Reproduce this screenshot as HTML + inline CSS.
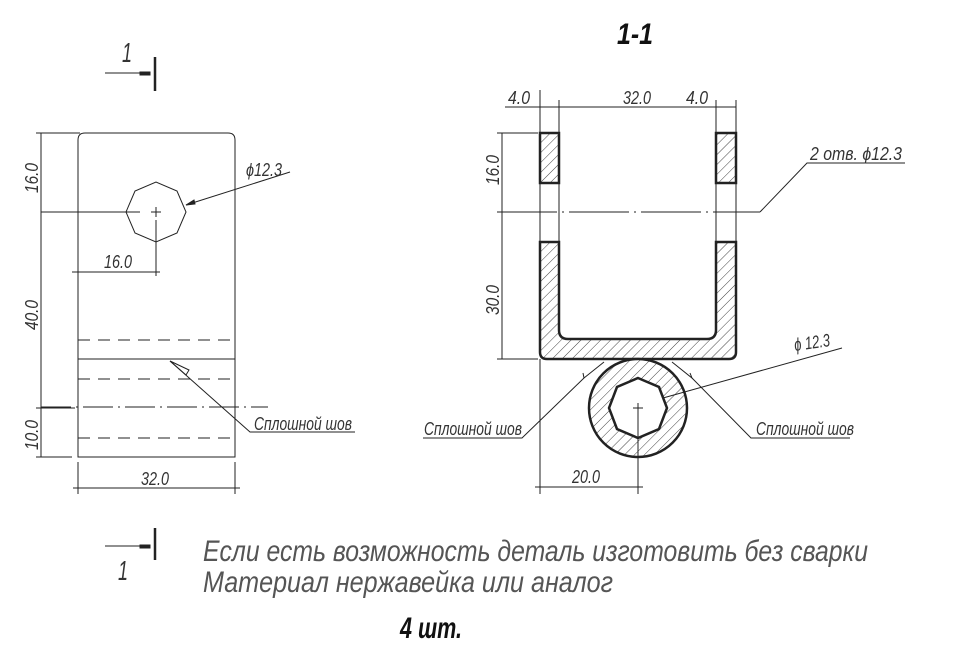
<!DOCTYPE html>
<html><head><meta charset="utf-8"><style>
html,body{margin:0;padding:0;background:#fff}
svg{display:block}
text{font-family:"Liberation Sans","DejaVu Sans",sans-serif;font-style:italic;fill:#333}
</style></head><body>
<svg width="960" height="655" viewBox="0 0 960 655" xmlns="http://www.w3.org/2000/svg">
<defs>
<pattern id="h" patternUnits="userSpaceOnUse" width="7" height="7" patternTransform="rotate(45)">
<rect width="7" height="7" fill="#fff"/><line x1="0" y1="0" x2="0" y2="7" stroke="#444" stroke-width="1"/>
</pattern>
</defs>
<g stroke="#222" fill="none" stroke-width="1">
<path d="M78 457 V140 Q78 133 85 133 H228 Q235 133 235 140 V457 Z"/>
<polygon points="186,212 177,233 156,242 135,233 126,212 135,191 156,182 177,191"/>
<line x1="151" y1="212" x2="161" y2="212"/><line x1="156" y1="207" x2="156" y2="217"/>
<line x1="41" y1="212" x2="140" y2="212"/>
<line x1="156" y1="220" x2="156" y2="276"/>
<line x1="72" y1="272" x2="160" y2="272"/>
<line x1="41" y1="133" x2="41" y2="457"/>
<line x1="36" y1="133" x2="80" y2="133"/>
<line x1="36" y1="408" x2="75" y2="408"/>
<line x1="36" y1="457" x2="72" y2="457"/>
<line x1="78" y1="359" x2="235" y2="359"/>
<line x1="78" y1="340" x2="235" y2="340" stroke-dasharray="12,8"/>
<line x1="78" y1="379" x2="235" y2="379" stroke-dasharray="12,8"/>
<line x1="78" y1="438" x2="235" y2="438" stroke-dasharray="12,8"/>
<line x1="41" y1="407" x2="268" y2="407" stroke-dasharray="30,5,2,5"/>
<line x1="78" y1="462" x2="78" y2="494"/><line x1="235" y1="462" x2="235" y2="494"/>
<line x1="73" y1="488" x2="240" y2="488"/>
<polyline points="170,361 189,370 186,375 170,361"/>
<polyline points="170,361 250,432 355,432"/>
<line x1="186" y1="205" x2="290" y2="172"/>
<polygon points="186,205 194,200 195,204" fill="#222"/>
<line x1="105" y1="73" x2="150" y2="73"/>
<line x1="155" y1="57" x2="155" y2="91" stroke-width="2.5"/>
<rect x="140" y="72" width="10" height="3" fill="#222"/>
<line x1="105" y1="546" x2="150" y2="546"/>
<line x1="155" y1="528" x2="155" y2="560" stroke-width="2.5"/>
<rect x="140" y="545" width="10" height="3" fill="#222"/>
<rect x="540" y="133" width="19" height="50" fill="url(#h)" stroke-width="2.5"/>
<rect x="716" y="133" width="20" height="50" fill="url(#h)" stroke-width="2.5"/>
<path d="M540 242 H559 V330 Q559 339 568 339 H707 Q716 339 716 330 V242 H736 V352 Q736 359 729 359 H547 Q540 359 540 352 Z" fill="url(#h)" stroke-width="2.5"/>
<circle cx="638" cy="408" r="49" fill="url(#h)" stroke-width="2.5"/>
<polygon points="638,378 659,387 667,408 659,429 638,438 617,429 609,408 617,387" fill="#fff" stroke-width="2.5"/>
<line x1="633" y1="408" x2="643" y2="408"/><line x1="638" y1="403" x2="638" y2="494"/>
<line x1="540" y1="90" x2="540" y2="133"/><line x1="559" y1="100" x2="559" y2="133"/>
<line x1="716" y1="100" x2="716" y2="133"/><line x1="736" y1="100" x2="736" y2="133"/>
<line x1="505" y1="107" x2="736" y2="107"/>
<line x1="540" y1="183" x2="540" y2="242"/><line x1="559" y1="183" x2="559" y2="242"/>
<line x1="716" y1="183" x2="716" y2="242"/><line x1="736" y1="183" x2="736" y2="242"/>
<line x1="540" y1="359" x2="540" y2="494"/>
<line x1="535" y1="487" x2="643" y2="487"/>
<line x1="502" y1="133" x2="502" y2="359"/>
<line x1="497" y1="133" x2="538" y2="133"/>
<line x1="497" y1="359" x2="538" y2="359"/>
<line x1="497" y1="212" x2="760" y2="212" stroke-dasharray="60,5,2,5"/>
<polyline points="760,212 807,163 905,163"/>
<polyline points="604,362 584,378 583,373"/>
<polyline points="584,378 522,438 423,438"/>
<polyline points="672,362 692,378 690,373"/>
<polyline points="692,378 751,438 850,438"/>
<line x1="663" y1="398" x2="842" y2="348"/>
</g>
<g font-size="18">
<text transform="translate(38,193) rotate(-90)" textLength="30" lengthAdjust="spacingAndGlyphs">16.0</text>
<text transform="translate(38,330) rotate(-90)" textLength="30" lengthAdjust="spacingAndGlyphs">40.0</text>
<text transform="translate(38,450) rotate(-90)" textLength="30" lengthAdjust="spacingAndGlyphs">10.0</text>
<text x="104" y="268" textLength="28" lengthAdjust="spacingAndGlyphs">16.0</text>
<text x="141" y="485" textLength="28" lengthAdjust="spacingAndGlyphs">32.0</text>
<text x="246" y="176" textLength="36" lengthAdjust="spacingAndGlyphs">ϕ12.3</text>
<text x="254" y="430" textLength="98" lengthAdjust="spacingAndGlyphs">Сплошной шов</text>
<text x="508" y="104" textLength="22" lengthAdjust="spacingAndGlyphs">4.0</text>
<text x="623" y="104" textLength="28" lengthAdjust="spacingAndGlyphs">32.0</text>
<text x="686" y="104" textLength="22" lengthAdjust="spacingAndGlyphs">4.0</text>
<text transform="translate(499,185) rotate(-90)" textLength="30" lengthAdjust="spacingAndGlyphs">16.0</text>
<text transform="translate(499,315) rotate(-90)" textLength="30" lengthAdjust="spacingAndGlyphs">30.0</text>
<text x="810" y="160" textLength="92" lengthAdjust="spacingAndGlyphs">2 отв. ϕ12.3</text>
<text x="795" y="351" textLength="36" lengthAdjust="spacingAndGlyphs" transform="rotate(-8 795 351)">ϕ 12.3</text>
<text x="424" y="435" textLength="98" lengthAdjust="spacingAndGlyphs">Сплошной шов</text>
<text x="756" y="435" textLength="98" lengthAdjust="spacingAndGlyphs">Сплошной шов</text>
<text x="572" y="483" textLength="28" lengthAdjust="spacingAndGlyphs">20.0</text>
</g>
<text x="122" y="62" font-size="28" textLength="10" lengthAdjust="spacingAndGlyphs">1</text>
<text x="118" y="580" font-size="28" textLength="10" lengthAdjust="spacingAndGlyphs">1</text>
<text x="617" y="44" font-size="30" font-weight="bold" textLength="36" lengthAdjust="spacingAndGlyphs" style="fill:#111">1-1</text>
<text x="203" y="561" font-size="30" textLength="665" lengthAdjust="spacingAndGlyphs" style="fill:#555">Если есть возможность деталь изготовить без сварки</text>
<text x="203" y="592" font-size="30" textLength="410" lengthAdjust="spacingAndGlyphs" style="fill:#555">Материал нержавейка или аналог</text>
<text x="400" y="638" font-size="30" font-weight="bold" textLength="62" lengthAdjust="spacingAndGlyphs" style="fill:#111">4 шт.</text>
</svg>
</body></html>
